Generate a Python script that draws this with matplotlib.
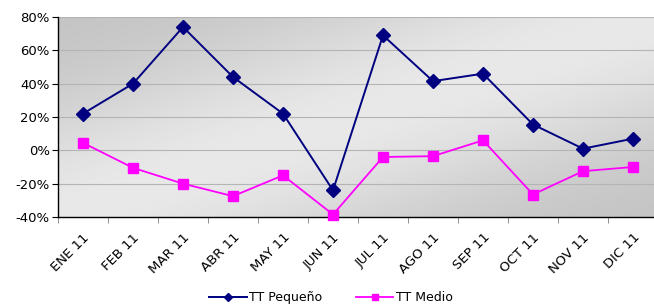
import matplotlib
matplotlib.use("Agg")
import matplotlib.pyplot as plt
import numpy as np
from matplotlib.ticker import FixedLocator, PercentFormatter

months = ["ENE 11", "FEB 11", "MAR 11", "ABR 11", "MAY 11", "JUN 11",
          "JUL 11", "AGO 11", "SEP 11", "OCT 11", "NOV 11", "DIC 11"]
tt_pequeno = [22, 40, 74, 44, 22, -24, 69, 41.5, 46, 15.5, 1, 7]
tt_medio = [4.5, -10.5, -20, -27.5, -15, -38.5, -4, -3.5, 6, -26.5, -12.5, -10]

plt.rcParams.update({"font.family": "DejaVu Sans", "font.size": 9.5,
                     "axes.unicode_minus": False})

fig = plt.figure(figsize=(6.54, 3.06), dpi=100)
ax = fig.add_axes([58 / 654, 89 / 306, 600 / 654, 200 / 306])

# diagonal gray gradient: dark top-left and bottom-right, light band between
gx, gy = np.meshgrid(np.linspace(0, 1, 300), np.linspace(1, 0, 150))
t = 0.5 * gx + 0.5 * (1 - gy)
shade = 0.76 + 0.15 * np.exp(-((t - 0.5) / 0.3) ** 2)
ax.imshow(shade, cmap="gray", vmin=0, vmax=1, extent=[0, 1, 0, 1],
          transform=ax.transAxes, aspect="auto", zorder=0,
          interpolation="bilinear")

x = np.arange(len(months))
ax.plot(x, tt_pequeno, color="#000080", lw=1.4, marker="D", ms=6.8,
        label="TT Pequeño", zorder=3)
ax.plot(x, tt_medio, color="#ff00ff", lw=1.3, marker="s", ms=7,
        label="TT Medio", zorder=3, clip_on=False)

ax.set_xlim(-0.5, 11.5)
ax.set_ylim(-40, 80)
ax.set_yticks(np.arange(-40, 81, 20))
ax.yaxis.set_major_formatter(PercentFormatter(decimals=0))
ax.grid(axis="y", color="#b4b4b4", lw=0.8, zorder=1)
ax.set_axisbelow(True)

ax.set_xticks(x, months, rotation=45, ha="right", rotation_mode="anchor")
ax.tick_params(axis="x", which="major", length=0, pad=10)
ax.xaxis.set_minor_locator(FixedLocator(np.arange(-0.5, 12, 1)))
ax.tick_params(axis="x", which="minor", length=4, color="#808080")
ax.tick_params(axis="y", length=4, pad=2)
for s in ["top", "right"]:
    ax.spines[s].set_visible(False)
for s in ["left", "bottom"]:
    ax.spines[s].set_color("black")
    ax.spines[s].set_linewidth(1.0)

fig.legend(loc="center", bbox_to_anchor=(0.506, 0.028), ncol=2, frameon=False,
           columnspacing=2.7, handlelength=3.0, markerscale=0.6,
           handletextpad=0.2, fontsize=9)

fig.savefig("out.png", dpi=100)
